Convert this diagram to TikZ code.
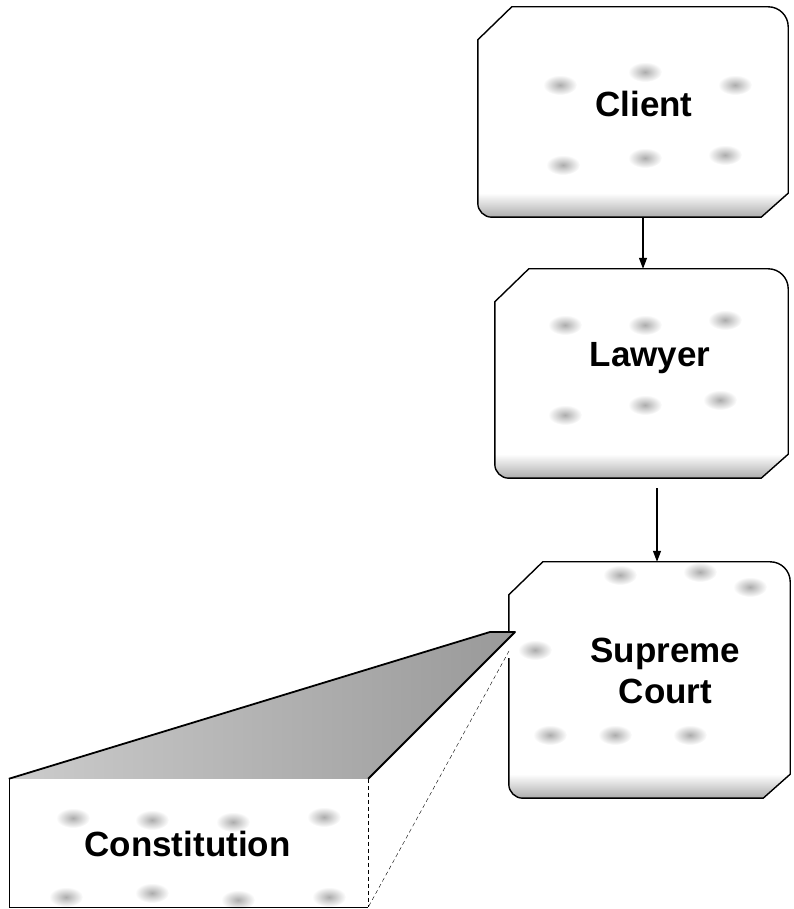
\documentclass[tikz,border=0pt]{standalone}
\usepackage{fontspec}
\setmainfont{Liberation Sans}
\usetikzlibrary{calc,arrows.meta}

% outline of a card: cut top-left, round top-right, cut bottom-right, round bottom-left
\newcommand{\cardpath}[1]{%
  ($(#1.north west)+(0,-33)$) -- ($(#1.north west)+(34,0)$)
  -- ($(#1.north east)+(-20,0)$) arc[start angle=90,end angle=0,radius=20]
  -- ($(#1.south east)+(0,24)$) -- ($(#1.south east)+(-27,0)$)
  -- ($(#1.south west)+(14,0)$) arc[start angle=270,end angle=180,radius=14]
  -- cycle}
\newcommand{\speck}[2]{\shade[inner color=gray!65,outer color=white] (#1,#2) ellipse (17 and 10);}
\newcommand{\drawcard}[2]{%
  \begin{scope}
    \clip \cardpath{#1};
    \foreach \sx/\sy in {#2} {\speck{\sx}{\sy}}
    \shade[top color=white,bottom color=gray!65] (#1.south west) rectangle ($(#1.south east)+(0,24)$);
  \end{scope}
  \draw[line width=1.4pt] \cardpath{#1};}

\begin{document}
\begin{tikzpicture}[x=1pt, y=1pt,
    card/.style={minimum width=#1, inner sep=0pt},
    cardtext/.style={font=\fontsize{35}{41}\selectfont\bfseries, align=center},
    arr/.style={draw, line width=1.2pt, -{Triangle[length=11pt,width=8pt]}},
    zoomline/.style={draw, thin, dash pattern=on 4pt off 3pt}]
  \useasboundingbox (0,0) rectangle (794,909);

  \node[card=310pt, minimum height=210pt] (client) at (633,797) {};
  \node[card=293pt, minimum height=209pt] (lawyer) at (641.5,535.5) {};
  \node[card=281pt, minimum height=236pt] (supreme) at (649.5,229) {};
  \node[card=359pt, minimum height=128pt] (constitution) at (188.5,66) {};

  \drawcard{client}{560/824, 645/837, 735/824, 563/744, 645/751, 725/754}
  \drawcard{lawyer}{565/584, 645/584, 725/589, 565/494, 645/504, 720/509}
  \drawcard{supreme}{620/334, 700/337, 750/322, 535/259, 550/174, 615/174, 690/174}

  \node[cardtext] (clientlbl) at ([xshift=11,yshift=8]client.center) {Client};
  \node[cardtext] (lawyerlbl) at ([xshift=8.5,yshift=15]lawyer.center) {Lawyer};
  \node[cardtext] (supremelbl) at ([xshift=16,yshift=9]supreme.center) {Supreme\\Court};

  \draw[arr] ([xshift=10]client.south) -- ([xshift=10]client.south |- lawyer.north);
  \draw[arr] ([shift={(15.5,-10)}]lawyer.south) -- ([xshift=15.5]lawyer.south |- supreme.north);

  % zoomed-out piece
  \coordinate (apexl) at (490,277);
  \coordinate (apexr) at (515,277);
  \coordinate (zoomstart) at (509,258);
  \draw[white, line width=3pt] (509,251) -- (509,276);
  \foreach \sx/\sy in {73/91, 152/89, 233/87, 324/92, 66/12, 152/16, 238/9, 329/12} {\speck{\sx}{\sy}}
  \shade[left color=gray!40, right color=gray!80] (constitution.north west) -- (apexl) -- (apexr) -- (constitution.north east) -- cycle;
  \draw[line width=1.8pt, line join=round] (constitution.north west) -- (apexl) -- (apexr) -- (constitution.north east);
  \draw[thin] (constitution.north west) -- (constitution.south west) -- (constitution.south east);
  \draw[zoomline] (constitution.north east) -- (constitution.south east);
  \draw[zoomline] (zoomstart) -- (constitution.south east);
  \node[cardtext] (constitutionlbl) at ([xshift=-1,yshift=-1]constitution.center) {Constitution};
\end{tikzpicture}
\end{document}
